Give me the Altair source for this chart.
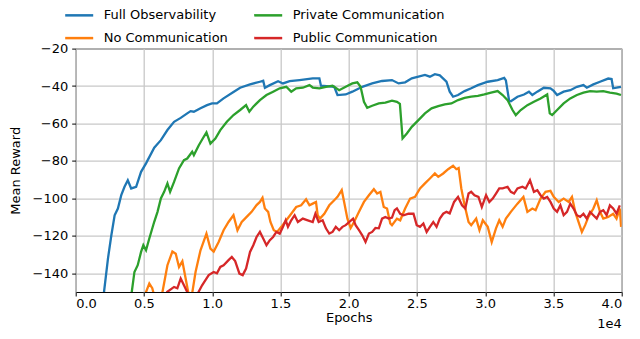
import altair as alt
import pandas as pd

# ---- data (epochs, mean reward) ----
full_x = [1830, 2075, 2366, 2612, 2852, 3091, 3338, 3577, 3817, 4064, 4427, 4789, 5152, 5754, 6240, 6720,
          7206, 7692, 8171, 8418, 8657, 9143, 9622, 9985, 10348, 10834, 11560, 12046, 12772, 13497, 13737,
          13860, 14223, 14826, 15188, 15674, 16400, 17366, 17852, 17968, 18940, 19180, 19782, 20268, 20994,
          21720, 22445, 23171, 23657, 24136, 24622, 25108, 25587, 25950, 26313, 26676, 27162, 27401, 27648,
          28011, 28490, 28976, 29462, 30188, 30914, 31393, 31516, 31756, 31879, 32365, 32844, 33207, 33454,
          33817, 34296, 34782, 35022, 35269, 35748, 36234, 36720, 37199, 37446, 37925, 38411, 39013, 39260,
          39376, 39623, 39950]
full_y = [-165, -150, -132, -119.7, -109, -105.4, -98.3, -93.8, -90.3, -94.7, -93.8, -85.8, -81.3, -72.9,
          -68.9, -63.5, -59.1, -57, -54.6, -53.4, -53.7, -51.9, -50.2, -49.3, -49.3, -46.6, -43.2, -40.9,
          -39.1, -37.7, -37.2, -40.9, -39.5, -37.4, -38.6, -37.4, -36.8, -35.9, -35.9, -39.8, -40.4, -44.8,
          -44.5, -43, -40.4, -38.6, -37.3, -36.8, -38.6, -38, -35.9, -35, -34.1, -35, -33.7, -34.3, -37.7,
          -43, -45.7, -44.8, -42.7, -41.2, -39.5, -37.7, -36.8, -35.6, -37, -48, -48.1, -45.7, -44.5, -43,
          -44.8, -43, -40.9, -41.2, -42.6, -44.8, -43, -42.2, -40.4, -39.5, -40.9, -39.1, -37.7, -36, -36.3,
          -41.2, -40.9, -40.4]

nocomm_x = [5000, 5152, 5392, 5610, 5754, 5972, 6357, 6720, 7083, 7330, 7569, 7815, 8055, 8294, 8461, 8781,
            9143, 9579, 9869, 10109, 10472, 10834, 11197, 11560, 11850, 12163, 12525, 12888, 13251, 13497,
            13686, 13860, 14100, 14266, 14513, 14753, 15065, 15428, 15791, 16154, 16517, 16879, 17126, 17366,
            17605, 17728, 17895, 18214, 18577, 18940, 19180, 19491, 19666, 19906, 20145, 20392, 20755, 21118,
            21481, 21844, 22083, 22323, 22569, 22809, 23048, 23171, 23534, 23774, 24136, 24499, 24862, 25225,
            25587, 25950, 26313, 26560, 26923, 27286, 27648, 27888, 28055, 28251, 28490, 28781, 28976, 29340,
            29580, 29826, 30188, 30478, 30791, 31030, 31277, 31516, 31879, 32365, 32801, 33091, 33454, 33694,
            34056, 34419, 34782, 35022, 35385, 35748, 36111, 36358, 36597, 36837, 37083, 37323, 37562, 37925,
            38171, 38411, 38650, 39013, 39376, 39623, 39863, 39957]
nocomm_y = [-160, -150, -145.5, -148, -152, -156, -150, -135.7, -128.4, -129.6, -136.6, -133.6, -142.8,
            -152, -154, -139.3, -127.7, -118.8, -126.8, -128.4, -123.3, -117, -112.6, -109, -117, -112.6,
            -109.9, -107.2, -103.6, -101.9, -99.7, -105.4, -107.2, -112.6, -117, -117.9, -115.2, -111.7,
            -108.2, -104.6, -103.7, -100.5, -103.7, -102.8, -101.9, -109, -110.8, -108.2, -103.7, -101, -99.2,
            -95.6, -101.9, -110.8, -115.8, -112.6, -107.2, -101.9, -98.3, -95.1, -97.4, -96.5, -104.6, -105.4,
            -113.4, -114.3, -110.8, -111.7, -105.4, -100.1, -99.2, -94.7, -92, -89.4, -86.7, -88.5, -86.7,
            -84.4, -82.6, -84.4, -83.8, -94.7, -103.6, -112.6, -114.3, -110.8, -117, -111.7, -115.2, -123.3,
            -116, -111.7, -115.2, -110.8, -107.2, -102.8, -99.2, -107.2, -105.4, -106.3, -100.1, -96.5, -96,
            -99.2, -101.9, -100.1, -101.9, -99.2, -107.2, -112.6, -117.9, -114.3, -109.9, -105.4, -101,
            -107.2, -110.8, -109.9, -108.2, -110.8, -105.4, -115.2]

private_x = [3900, 4107, 4303, 4543, 4789, 4956, 5152, 5392, 5754, 5994, 6240, 6480, 6720, 6916, 7206, 7569,
             7931, 8171, 8534, 8657, 9020, 9383, 9579, 9869, 10232, 10595, 11074, 11560, 12046, 12482, 12721,
             13011, 13497, 13977, 14463, 14949, 15428, 15791, 16154, 16640, 17126, 17366, 17852, 18331, 18817,
             19303, 19782, 20268, 20631, 20871, 21118, 21357, 21720, 22206, 22685, 23171, 23534, 23751, 23947,
             24260, 24622, 25108, 25587, 26073, 26560, 27039, 27525, 28011, 28490, 28976, 29462, 29941, 30427,
             30914, 31277, 31639, 32002, 32242, 32605, 33091, 33570, 34056, 34542, 34731, 34906, 35269, 35748,
             36234, 36720, 37199, 37685, 38171, 38650, 39136, 39623, 39950]
private_y = [-161, -150, -139.3, -135.7, -128.6, -125, -127.7, -121.4, -112.5, -107.2, -100, -96.5, -92,
             -96.5, -91.2, -84, -79.6, -78.7, -75.1, -76.9, -71.6, -67.1, -64.8, -70.7, -68, -63.5, -59.1,
             -55.5, -52.8, -50.2, -53.7, -51, -47.5, -44.8, -43, -41.2, -40.4, -43, -41.2, -40.9, -39.5, -40.8,
             -41.2, -40.4, -39.8, -42.2, -40.4, -38.6, -38, -40.4, -48.4, -51.6, -50.5, -49.3, -48.8, -47.8,
             -48.4, -49.5, -68, -65.3, -61.8, -58.2, -54.6, -51.9, -50.7, -49.8, -49.3, -47.5, -46.3, -45.7,
             -45.2, -44.5, -43.5, -42.7, -44.8, -47.5, -52.8, -55.5, -52.8, -50.2, -48.4, -46.6, -44.5, -54.6,
             -55.5, -52.8, -49.3, -46.6, -44.8, -43.5, -42.7, -43, -42.7, -43.5, -44, -44.8]

public_x = [6500, 6700, 7206, 7446, 7692, 7931, 8171, 8418, 8781, 9260, 9506, 9746, 10109, 10348, 10595,
            10834, 11197, 11437, 11683, 11995, 12235, 12482, 12772, 13011, 13251, 13497, 13737, 13977, 14223,
            14463, 14703, 14949, 15188, 15384, 15551, 15791, 16037, 16277, 16640, 17003, 17366, 17562, 17801,
            18091, 18331, 18577, 18817, 19056, 19303, 19542, 19782, 20319, 20508, 20755, 20994, 21234, 21481,
            21720, 21960, 22206, 22445, 22685, 22932, 23171, 23367, 23534, 23774, 24020, 24383, 24746, 24985,
            25225, 25472, 25711, 25950, 26197, 26437, 26676, 26923, 27162, 27401, 27721, 28011, 28302, 28541,
            28781, 28976, 29216, 29506, 29753, 30065, 30305, 30551, 30791, 31030, 31277, 31639, 31879, 32118,
            32365, 32728, 32967, 33280, 33570, 33817, 34056, 34296, 34542, 34782, 35022, 35269, 35508, 35748,
            35994, 36234, 36474, 36720, 36960, 37199, 37446, 37685, 37925, 38171, 38411, 38650, 38897, 39136,
            39376, 39623, 39863]
public_y = [-160, -150, -147.3, -148, -142.8, -146.4, -150, -153, -153, -146.4, -143.7, -141, -139.3, -140,
            -136.6, -135.7, -133, -131.3, -133.5, -140.2, -141, -137.5, -128.6, -125, -120.6, -117.9, -121.4,
            -125, -122.3, -120.6, -117.9, -118.8, -115.2, -111.7, -115.2, -111.7, -109, -112.6, -110.8, -111.7,
            -112.6, -108.2, -112.6, -111.7, -116, -118.8, -117.9, -115.2, -117, -115.2, -114.3, -110.8, -114.3,
            -117, -119.7, -123.3, -118.8, -117.9, -115.8, -116, -110.8, -109.9, -110.8, -110.3, -106.3, -105.4,
            -108.2, -109, -108.2, -108.2, -114.3, -115.2, -113.4, -117.9, -115.2, -112.6, -115.2, -110.8,
            -108.2, -107.2, -108, -101.9, -99.2, -103.7, -105.4, -97.4, -96.5, -98.3, -99.2, -104.6, -98.3,
            -101.9, -100.1, -97.4, -94.7, -94.7, -93.8, -96.5, -97.4, -94.7, -93.8, -94.7, -90.3, -96.5, -95.6,
            -98.3, -100.1, -99.2, -101.9, -105.4, -107.2, -103.7, -109, -107.2, -102.8, -105.4, -109, -109.9,
            -108.2, -110.8, -107.2, -109, -110.8, -107.2, -106.3, -109, -103.7, -105.4, -108.2, -103.7]

series_names = ["Full Observability", "No Communication", "Private Communication", "Public Communication"]
series_colors = ["#1f77b4", "#ff7f0e", "#2ca02c", "#d62728"]
x_ticks = [0, 5000, 10000, 15000, 20000, 25000, 30000, 35000, 40000]
y_ticks = [-140, -120, -100, -80, -60, -40, -20]

frames = []
for name, xs, ys in zip(series_names, [full_x, nocomm_x, private_x, public_x],
                        [full_y, nocomm_y, private_y, public_y]):
    frames.append(pd.DataFrame({"epoch": xs, "reward": ys, "series": name}))
df = pd.concat(frames, ignore_index=True)

FONT = "DejaVu Sans"
W, H = 546, 243.4

x_enc = alt.X("epoch:Q", scale=alt.Scale(domain=[0, 40000], nice=False, zero=False),
              axis=alt.Axis(values=x_ticks, labelExpr="format(datum.value / 10000, '.1f')",
                            title="Epochs", titleX=W / 2, titleY=26, titleAlign="center",
                            titleBaseline="middle", labelPadding=2))
y_enc = alt.Y("reward:Q", scale=alt.Scale(domain=[-150, -20], nice=False, zero=False),
              axis=alt.Axis(values=y_ticks, title="Mean Reward", titleX=-60, titleY=H / 2,
                            titleAngle=270, titleAlign="center", titleBaseline="middle",
                            labelPadding=4))
color_enc = alt.Color("series:N", scale=alt.Scale(domain=series_names, range=series_colors),
                      legend=alt.Legend(title=None, orient="none", legendX=-12, legendY=-49,
                                        columns=2, symbolType="stroke", symbolSize=784,
                                        symbolStrokeWidth=2.5, labelFont=FONT, labelFontSize=13,
                                        labelColor="black", columnPadding=20, rowPadding=-9,
                                        padding=0, labelOffset=9, symbolOpacity=1))

base = alt.Chart(df)
layers = []
for name in series_names:
    layers.append(
        base.transform_filter(alt.datum.series == name)
        .mark_line(clip=True, strokeWidth=2.3)
        .encode(x=x_enc, y=y_enc, color=color_enc)
    )

offset_text = alt.Chart(pd.DataFrame({"t": ["1e4"]})).mark_text(
    align="right", baseline="middle", font=FONT, fontSize=13, color="black"
).encode(text="t:N", x=alt.value(W), y=alt.value(H + 32))

chart = alt.layer(*layers, offset_text).properties(
    width=W, height=H,
    autosize=alt.AutoSizeParams(type="none"),
    padding={"left": 67.7, "top": 40.6, "right": 10, "bottom": 39},
).configure_view(stroke="black", strokeWidth=1).configure_axis(
    labelFont=FONT, labelFontSize=13, labelColor="black",
    titleFont=FONT, titleFontSize=13, titleFontWeight="normal", titleColor="black",
    domain=False, grid=True, gridColor="#c8c8c8", gridWidth=1.3,
    tickColor="black", tickSize=4, tickWidth=1,
)

chart.save("out.html", embed_options={"renderer": "svg", "actions": False})
